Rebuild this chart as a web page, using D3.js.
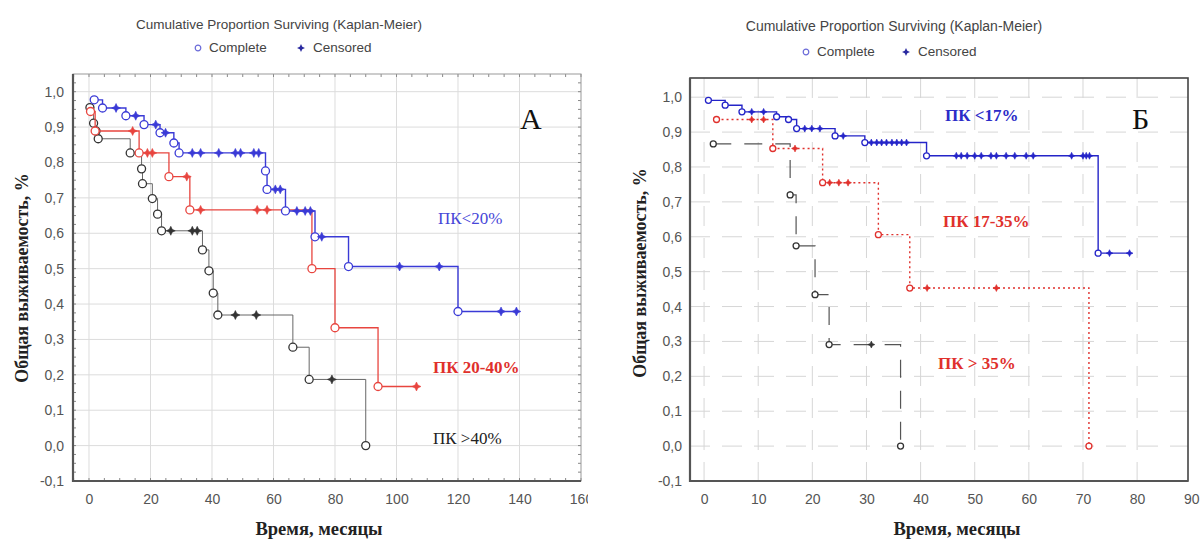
<!DOCTYPE html>
<html>
<head>
<meta charset="utf-8">
<script src="https://cdn.jsdelivr.net/npm/d3@7"></script>
<style>
  body { margin: 0; background: #fff; }
  svg { display: block; }
</style>
</head>
<body>
<script>
// Panel A: [time, survival, kind]  e = complete, c = censored
const aBlue = [
  [1.7, 0.977, 'e'], [4.4, 0.954, 'e'], [8.8, 0.954, 'c'], [12, 0.932, 'e'], [15.2, 0.932, 'c'],
  [17.9, 0.907, 'e'], [21.7, 0.907, 'c'], [23.1, 0.884, 'e'], [24.9, 0.884, 'c'], [27.6, 0.855, 'e'],
  [29.3, 0.827, 'e'], [33.6, 0.827, 'c'], [36.3, 0.827, 'c'], [42.2, 0.827, 'c'], [47.6, 0.827, 'c'],
  [49.3, 0.827, 'c'], [53.6, 0.827, 'c'], [55.2, 0.827, 'c'], [57.4, 0.776, 'e'], [57.9, 0.724, 'e'],
  [60.6, 0.724, 'c'], [62.2, 0.724, 'c'], [63.9, 0.663, 'e'], [67.6, 0.663, 'c'], [70.3, 0.663, 'c'],
  [72, 0.663, 'c'], [73.5, 0.59, 'e'], [75.7, 0.59, 'c'], [84.4, 0.506, 'e'], [101, 0.506, 'c'],
  [113.9, 0.506, 'c'], [120, 0.379, 'e'], [134, 0.379, 'c'], [139, 0.379, 'c']
];
const aRed = [
  [0.5, 0.944, 'e'], [2, 0.889, 'e'], [14.2, 0.889, 'c'], [16.3, 0.827, 'e'], [19, 0.827, 'c'],
  [20.6, 0.827, 'c'], [26, 0.76, 'e'], [31.8, 0.76, 'c'], [32.8, 0.666, 'e'], [36.3, 0.666, 'c'],
  [54.7, 0.666, 'c'], [57.9, 0.666, 'c'], [72.5, 0.5, 'e'], [80, 0.333, 'e'], [94, 0.167, 'e'],
  [106.5, 0.167, 'c']
];
const aBlack = [
  [0.3, 0.955, 'e'], [1.5, 0.911, 'e'], [2.3, 0.889, 'e'], [3, 0.867, 'e'], [13.4, 0.827, 'e'],
  [17.1, 0.782, 'e'], [17.4, 0.74, 'e'], [20.6, 0.698, 'e'], [22.3, 0.654, 'e'], [23.6, 0.607, 'e'],
  [26.6, 0.607, 'c'], [33.6, 0.607, 'c'], [35.2, 0.607, 'c'], [36.9, 0.553, 'e'], [39, 0.494, 'e'],
  [40.4, 0.431, 'e'], [41.9, 0.369, 'e'], [47.6, 0.369, 'c'], [54.4, 0.369, 'c'], [66.3, 0.278, 'e'],
  [71.6, 0.187, 'e'], [79, 0.187, 'c'], [90, 0, 'e']
];

// Panel Б
const bBlue = [
  [0.8, 0.991, 'e'], [3.9, 0.977, 'e'], [7, 0.958, 'e'], [8.8, 0.958, 'c'], [11, 0.958, 'c'],
  [13.4, 0.944, 'e'], [15.6, 0.936, 'e'], [17.1, 0.91, 'e'], [18.6, 0.91, 'c'], [19.9, 0.91, 'c'],
  [21.4, 0.91, 'c'], [24.2, 0.889, 'e'], [25.7, 0.889, 'c'], [29.7, 0.87, 'e'], [30.9, 0.87, 'c'],
  [31.9, 0.87, 'c'], [32.8, 0.87, 'c'], [33.7, 0.87, 'c'], [34.7, 0.87, 'c'], [35.6, 0.87, 'c'],
  [36.5, 0.87, 'c'], [37.4, 0.87, 'c'], [41.1, 0.832, 'e'], [46.6, 0.832, 'c'], [47.5, 0.832, 'c'],
  [48.6, 0.832, 'c'], [50, 0.832, 'c'], [51.2, 0.832, 'c'], [53, 0.832, 'c'], [54, 0.832, 'c'],
  [55.8, 0.832, 'c'], [57.4, 0.832, 'c'], [59.5, 0.832, 'c'], [60.8, 0.832, 'c'], [67.9, 0.832, 'c'],
  [70, 0.832, 'c'], [70.6, 0.832, 'c'], [71.2, 0.832, 'c'], [72.8, 0.553, 'e'], [74.9, 0.553, 'c'],
  [78.6, 0.553, 'c']
];
const bRed = [
  [2.3, 0.936, 'e'], [8.8, 0.936, 'c'], [11, 0.936, 'c'], [12.7, 0.853, 'e'], [16.8, 0.853, 'c'],
  [21.9, 0.755, 'e'], [23.2, 0.755, 'c'], [24.9, 0.755, 'c'], [26.6, 0.755, 'c'], [32.2, 0.606, 'e'],
  [38, 0.453, 'e'], [41.2, 0.453, 'c'], [54, 0.453, 'c'], [71.1, 0, 'e']
];
const bBlack = [
  [1.7, 0.866, 'e'], [15.9, 0.72, 'e'], [17, 0.574, 'e'], [20.5, 0.434, 'e'], [23.1, 0.291, 'e'],
  [30.9, 0.291, 'c'], [36.3, 0, 'e']
];

// ticks and labels
const aXTicks = [0, 20, 40, 60, 80, 100, 120, 140, 160];
const bXTicks = [0, 10, 20, 30, 40, 50, 60, 70, 80, 90];
const yTicks = [-0.1, 0, 0.1, 0.2, 0.3, 0.4, 0.5, 0.6, 0.7, 0.8, 0.9, 1.0];
const chartTitle = 'Cumulative Proportion Surviving (Kaplan-Meier)';
const legendLabels = ['Complete', 'Censored'];
const xTitle = 'Время, месяцы';
const yTitle = 'Общая выживаемость, %';
const aLabels = ['ПК<20%', 'ПК 20-40%', 'ПК >40%'];
const bLabels = ['ПК <17%', 'ПК 17-35%', 'ПК > 35%'];

const svg = d3
  .select('body')
  .append('svg')
  .attr('width', 1200)
  .attr('height', 543);

// 4-point star used for censored marks
const starSymbol = {
  draw(ctx, size) {
    const r = Math.sqrt(size), k = r * 0.32;
    ctx.moveTo(0, -r);
    ctx.lineTo(k, -k);
    ctx.lineTo(r, 0);
    ctx.lineTo(k, k);
    ctx.lineTo(0, r);
    ctx.lineTo(-k, k);
    ctx.lineTo(-r, 0);
    ctx.lineTo(-k, -k);
    ctx.closePath();
  }
};

const fmtY = d => d.toFixed(1).replace('.', ',');

function drawPanel(cfg) {
  const g = svg.append('g').attr('clip-path', cfg.clip ? 'url(#' + cfg.clip + ')' : null);

  const x = d3.scaleLinear().domain(cfg.xDomain).range([cfg.left, cfg.right]);
  const y = d3.scaleLinear().domain([-0.1, cfg.yTop]).range([cfg.bottom, cfg.top]);

  // grid
  const grid = g.append('g').attr('class', 'grid');
  grid
    .selectAll('line.gx')
    .data(cfg.xTicks.filter(d => x(d) > cfg.left + 2 && x(d) < cfg.right - 2))
    .enter()
    .append('line')
    .attr('x1', d => x(d))
    .attr('x2', d => x(d))
    .attr('y1', cfg.top)
    .attr('y2', cfg.bottom)
    .attr('stroke', cfg.gridColor)
    .attr('stroke-width', 1)
    .attr('stroke-dasharray', cfg.gridDash);
  grid
    .selectAll('line.gy')
    .data(yTicks.filter(d => d > -0.1))
    .enter()
    .append('line')
    .attr('x1', cfg.left)
    .attr('x2', cfg.right)
    .attr('y1', d => y(d))
    .attr('y2', d => y(d))
    .attr('stroke', cfg.gridColor)
    .attr('stroke-width', 1)
    .attr('stroke-dasharray', cfg.gridDash);

  // minor ticks on the frame
  if (cfg.minor) {
    const mx = d3.range(cfg.xDomain[0], cfg.xDomain[1], cfg.minor[0]).map(d => Math.ceil(d / cfg.minor[0]) * cfg.minor[0]);
    const my = d3.range(-0.1, cfg.yTop, cfg.minor[1]);
    const mt = g.append('g').attr('stroke', '#888').attr('stroke-width', 1);
    mt.selectAll('line.t').data(mx).enter().append('line')
      .attr('x1', d => x(d)).attr('x2', d => x(d)).attr('y1', cfg.top).attr('y2', cfg.top + 3);
    mt.selectAll('line.b').data(mx).enter().append('line')
      .attr('x1', d => x(d)).attr('x2', d => x(d)).attr('y1', cfg.bottom).attr('y2', cfg.bottom - 3);
    mt.selectAll('line.l').data(my).enter().append('line')
      .attr('x1', cfg.left).attr('x2', cfg.left + 3).attr('y1', d => y(d)).attr('y2', d => y(d));
    mt.selectAll('line.r').data(my).enter().append('line')
      .attr('x1', cfg.right).attr('x2', cfg.right - 3).attr('y1', d => y(d)).attr('y2', d => y(d));
  }

  // frame
  g.append('rect')
    .attr('x', cfg.left)
    .attr('y', cfg.top)
    .attr('width', cfg.right - cfg.left)
    .attr('height', cfg.bottom - cfg.top)
    .attr('fill', 'none')
    .attr('stroke', cfg.frameColor)
    .attr('stroke-width', cfg.frameWidth);
  g.append('path')
    .attr('d', 'M' + cfg.left + ',' + cfg.top + 'V' + cfg.bottom + 'H' + cfg.right)
    .attr('fill', 'none')
    .attr('stroke', '#555')
    .attr('stroke-width', 2.2);

  // axes
  const xAxis = d3.axisBottom(x).tickValues(cfg.xTicks).tickSize(0).tickPadding(13).tickFormat(d3.format('d'));
  const aX = g.append('g').attr('transform', 'translate(0,' + cfg.bottom + ')').call(xAxis);
  aX.select('.domain').remove();
  aX.selectAll('text')
    .attr('fill', '#555')
    .style('font-family', 'Liberation Sans, Arial, sans-serif')
    .style('font-size', cfg.tickSize + 'px');

  const yAxis = d3.axisLeft(y).tickValues(yTicks).tickSize(0).tickPadding(cfg.yPad).tickFormat(fmtY);
  const aY = g.append('g').attr('transform', 'translate(' + cfg.left + ',0)').call(yAxis);
  aY.select('.domain').remove();
  aY.selectAll('text')
    .attr('fill', '#555')
    .style('font-family', 'Liberation Sans, Arial, sans-serif')
    .style('font-size', cfg.tickSize + 'px');

  // curves
  const line = d3
    .line()
    .curve(d3.curveStepAfter)
    .x(d => x(d[0]))
    .y(d => y(d[1]));

  cfg.series.forEach(s => {
    const sg = g.append('g');
    sg.append('path')
      .datum(s.data)
      .attr('d', line)
      .attr('fill', 'none')
      .attr('stroke', s.color)
      .attr('stroke-width', s.width)
      .attr('stroke-dasharray', s.dash);
    sg.selectAll('circle')
      .data(s.data.filter(d => d[2] === 'e'))
      .enter()
      .append('circle')
      .attr('cx', d => x(d[0]))
      .attr('cy', d => y(d[1]))
      .attr('r', cfg.r)
      .attr('fill', '#fff')
      .attr('stroke', s.markColor || s.color)
      .attr('stroke-width', 1.3);
    sg.selectAll('path.cens')
      .data(s.data.filter(d => d[2] === 'c'))
      .enter()
      .append('path')
      .attr('class', 'cens')
      .attr('transform', d => 'translate(' + x(d[0]) + ',' + y(d[1]) + ')')
      .attr('d', d3.symbol().type(starSymbol).size(cfg.starSize))
      .attr('fill', s.markColor || s.color)
      .attr('stroke', s.markColor || s.color)
      .attr('stroke-width', 0.6);
  });

  // title + legend
  svg.append('text')
    .attr('x', cfg.titleX)
    .attr('y', cfg.titleY)
    .attr('text-anchor', 'middle')
    .attr('fill', '#444')
    .style('font-family', 'Liberation Sans, Arial, sans-serif')
    .style('font-size', cfg.titleSize + 'px')
    .text(chartTitle);
  const lg = svg.append('g').attr('transform', 'translate(' + cfg.legendX + ',' + cfg.legendY + ')');
  lg.append('circle').attr('cx', 0).attr('cy', -4).attr('r', 2.8).attr('fill', '#fff').attr('stroke', '#6a6ad8').attr('stroke-width', 1.2);
  lg.append('text').attr('x', 11).attr('y', 0).attr('fill', '#444')
    .style('font-family', 'Liberation Sans, Arial, sans-serif').style('font-size', '13.5px').text(legendLabels[0]);
  lg.append('path').attr('transform', 'translate(' + cfg.legendGap + ',-4)')
    .attr('d', d3.symbol().type(starSymbol).size(16)).attr('fill', '#2a2aa0');
  lg.append('text').attr('x', cfg.legendGap + 12).attr('y', 0).attr('fill', '#444')
    .style('font-family', 'Liberation Sans, Arial, sans-serif').style('font-size', '13.5px').text(legendLabels[1]);

  // axis titles
  svg.append('text')
    .attr('x', cfg.xTitleX)
    .attr('y', 535)
    .attr('text-anchor', 'middle')
    .attr('fill', '#222')
    .style('font-family', 'Liberation Serif, Times New Roman, serif')
    .style('font-weight', 'bold')
    .style('font-size', '18.5px')
    .text(xTitle);
  svg.append('text')
    .attr('transform', 'translate(' + cfg.yTitleX + ',' + cfg.yTitleY + ') rotate(-90)')
    .attr('text-anchor', 'middle')
    .attr('fill', '#222')
    .style('font-family', 'Liberation Serif, Times New Roman, serif')
    .style('font-weight', 'bold')
    .style('font-size', '18px')
    .text(yTitle);

  // in-plot labels
  cfg.notes.forEach(n => {
    g.append('text')
      .attr('x', n.x)
      .attr('y', n.y)
      .attr('fill', n.color)
      .style('font-family', 'Liberation Serif, Times New Roman, serif')
      .style('font-weight', n.bold ? 'bold' : 'normal')
      .style('font-size', n.size + 'px')
      .text(n.text);
  });
}

svg.append('defs')
  .append('clipPath')
  .attr('id', 'clipA')
  .append('rect')
  .attr('x', 0)
  .attr('y', 0)
  .attr('width', 588)
  .attr('height', 543);

drawPanel({
  left: 73, right: 581, top: 74, bottom: 481,
  xDomain: [-5.2, 160], yTop: 1.05, xTicks: aXTicks, yPad: 9, tickSize: 14,
  gridColor: '#dcdcdc', gridDash: null, frameColor: '#999', frameWidth: 1,
  minor: [5, 0.025], r: 4, starSize: 20, clip: 'clipA',
  titleX: 279, titleY: 29, titleSize: 13.5, legendX: 198, legendY: 52, legendGap: 103,
  xTitleX: 319, yTitleX: 28, yTitleY: 278,
  series: [
    { data: aBlack, color: '#666', markColor: '#333', width: 1, dash: null },
    { data: aRed, color: '#e8453f', width: 1.3, dash: null },
    { data: aBlue, color: '#3a3ad6', width: 1.4, dash: null }
  ],
  notes: [
    { text: 'А', x: 520, y: 129, size: 30, color: '#111', bold: false },
    { text: aLabels[0], x: 438, y: 224, size: 17, color: '#4646d8', bold: false },
    { text: aLabels[1], x: 433, y: 373, size: 17, color: '#e0302c', bold: true },
    { text: aLabels[2], x: 433, y: 444, size: 17, color: '#222', bold: false }
  ]
});

drawPanel({
  left: 690, right: 1188, top: 78, bottom: 481,
  xDomain: [-2.6, 89.4], yTop: 1.055, xTicks: bXTicks, yPad: 8, tickSize: 14,
  gridColor: '#d6d6d6', gridDash: '20,12', frameColor: '#444', frameWidth: 1.6,
  minor: null, r: 3, starSize: 12, clip: null,
  titleX: 894, titleY: 31, titleSize: 14, legendX: 806, legendY: 56, legendGap: 100,
  xTitleX: 957, yTitleX: 646, yTitleY: 273,
  series: [
    { data: bBlack, color: '#555', markColor: '#333', width: 1.2, dash: '18,13' },
    { data: bRed, color: '#e0302c', width: 1.4, dash: '2,3' },
    { data: bBlue, color: '#2424c8', width: 1.4, dash: null }
  ],
  notes: [
    { text: 'Б', x: 1132, y: 129, size: 30, color: '#111', bold: false },
    { text: bLabels[0], x: 945, y: 121, size: 17, color: '#2c2cc8', bold: true },
    { text: bLabels[1], x: 943, y: 227, size: 17, color: '#e0302c', bold: true },
    { text: bLabels[2], x: 938, y: 369, size: 17, color: '#e0302c', bold: true }
  ]
});
</script>
</body>
</html>
